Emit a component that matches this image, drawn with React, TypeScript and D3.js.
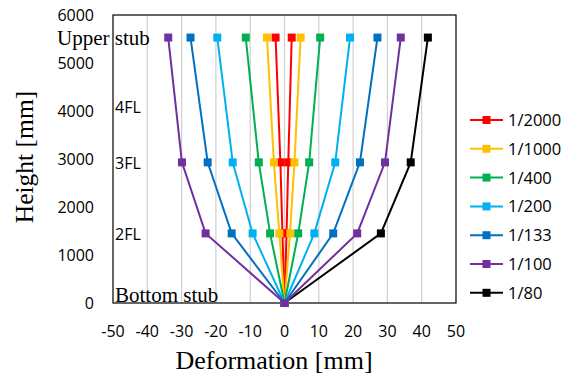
import React from "react";
import * as d3 from "d3";

const heights = [0, 1450, 2930, 5530];
const seriesNames = ["1/2000", "1/1000", "1/400", "1/200", "1/133", "1/100", "1/80"];
const colors = ["#FF0000", "#FFC000", "#00B050", "#00B0F0", "#0070C0", "#7030A0", "#000000"];
// deformation at each height, positive direction
const posValues = [
  [0, 0.6, 1.1, 2.1],
  [0, 1.6, 2.9, 4.7],
  [0, 4.0, 7.2, 10.4],
  [0, 8.7, 14.8, 19.1],
  [0, 14.2, 22.0, 27.1],
  [0, 21.2, 29.3, 33.9],
  [0, 28.1, 36.8, 41.8],
];
// negative direction (no data for 1/80)
const negValues = [
  [0, -0.6, -1.2, -2.6],
  [0, -1.5, -3.1, -5.1],
  [0, -4.2, -7.5, -11.3],
  [0, -9.3, -15.1, -19.6],
  [0, -15.4, -22.4, -27.4],
  [0, -23.0, -29.9, -33.9],
  null,
];
const xTicks = [-50, -40, -30, -20, -10, 0, 10, 20, 30, 40, 50];
const yTicks = [0, 1000, 2000, 3000, 4000, 5000, 6000];
const floorLabels = [
  { text: "Upper stub", h: 5530, serif: true },
  { text: "4FL", h: 4100, serif: false },
  { text: "3FL", h: 2930, serif: false },
  { text: "2FL", h: 1450, serif: false },
  { text: "Bottom stub", h: 0, serif: true },
];

const W = 571;
const H = 377;
const m = { left: 113, right: 456, top: 15, bottom: 303 };
const serif = "'Liberation Serif', 'DejaVu Serif', serif";
const sans = "'Open Sans', 'Liberation Sans', sans-serif";

export default function App() {
  const x = d3.scaleLinear().domain([-50, 50]).range([m.left, m.right]);
  const y = d3.scaleLinear().domain([0, 6000]).range([m.bottom, m.top]);
  const lineGen = d3
    .line<number>()
    .x((d) => x(d))
    .y((d, i) => y(heights[i]));

  const drawn: { vals: number[]; color: string; key: string }[] = [];
  posValues.forEach((v, i) => drawn.push({ vals: v, color: colors[i], key: "p" + i }));
  // black first so purple sits on top at the origin
  drawn.unshift(drawn.pop()!);
  negValues.forEach((v, i) => {
    if (v) drawn.push({ vals: v, color: colors[i], key: "n" + i });
  });

  const ms = 8;

  return (
    <svg width={W} height={H} style={{ position: "absolute", left: 0, top: 0, background: "#fff" }}>
      {xTicks
        .filter((t) => t !== -50 && t !== 50)
        .map((t) => (
          <line key={t} x1={x(t)} x2={x(t)} y1={m.top} y2={m.bottom} stroke="#d0d0d0" strokeWidth={1.2} />
        ))}
      <rect x={m.left} y={m.top} width={m.right - m.left} height={m.bottom - m.top} fill="none" stroke="#000" strokeWidth={1.2} />

      {floorLabels.map((f) => (
        <text
          key={f.text}
          x={f.serif && f.h > 0 ? 57 : 115}
          y={y(f.h) + (f.h === 0 ? -1 : 7)}
          fontFamily={f.serif ? serif : sans}
          fontSize={f.serif ? 21 : 16}
        >
          {f.text}
        </text>
      ))}

      {drawn.map((s) => (
        <g key={s.key}>
          <path d={lineGen(s.vals) || ""} fill="none" stroke={s.color} strokeWidth={2} />
          {s.vals.map((v, i) => (
            <rect key={i} x={x(v) - ms / 2} y={y(heights[i]) - ms / 2} width={ms} height={ms} fill={s.color} />
          ))}
        </g>
      ))}

      {yTicks.map((t) => (
        <text key={t} x={94} y={y(t) + 6} textAnchor="end" fontFamily={sans} fontSize={16}>
          {t}
        </text>
      ))}
      {xTicks.map((t) => (
        <text key={t} x={x(t)} y={337} textAnchor="middle" fontFamily={sans} fontSize={16}>
          {t}
        </text>
      ))}
      <text x={274} y={369} textAnchor="middle" fontFamily={serif} fontSize={26}>
        Deformation [mm]
      </text>
      <text transform={`translate(33,157) rotate(-90)`} textAnchor="middle" fontFamily={serif} fontSize={25.5}>
        Height [mm]
      </text>

      {seriesNames.map((n, i) => {
        const ly = 120 + i * 28.8;
        return (
          <g key={n}>
            <line x1={470} x2={503} y1={ly} y2={ly} stroke={colors[i]} strokeWidth={2} />
            <rect x={486.5 - ms / 2} y={ly - ms / 2} width={ms} height={ms} fill={colors[i]} />
            <text x={508} y={ly + 6} fontFamily={sans} fontSize={16.5}>
              {n}
            </text>
          </g>
        );
      })}
    </svg>
  );
}
